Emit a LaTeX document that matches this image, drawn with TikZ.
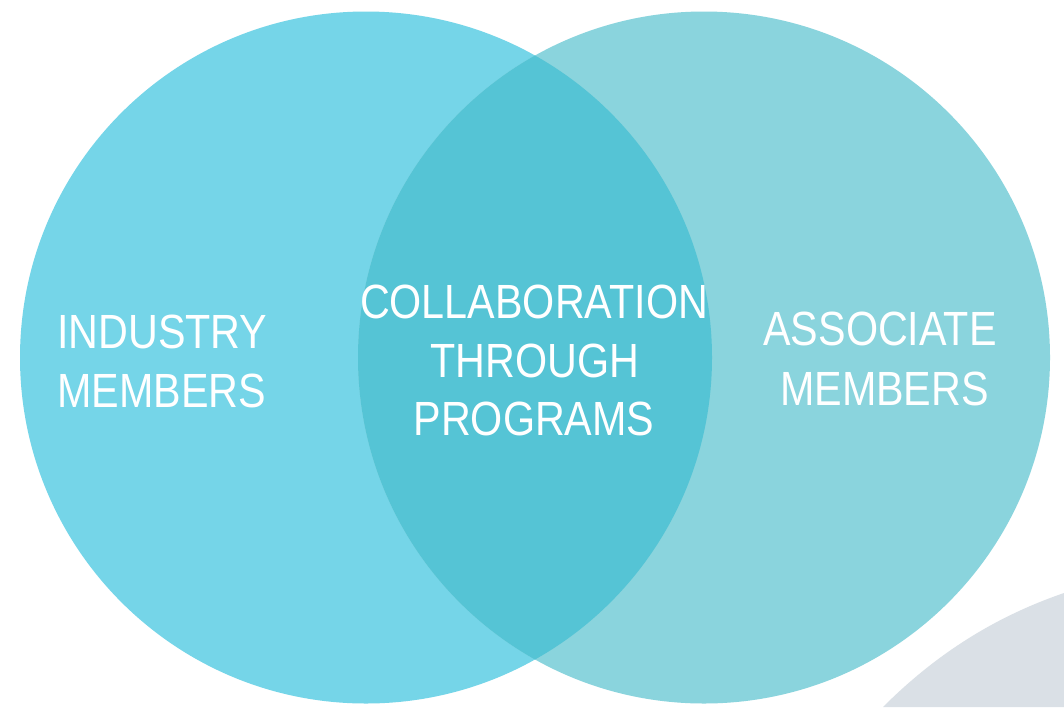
\documentclass[tikz,border=0pt]{standalone}
\usepackage{fontspec}
\newfontfamily\labelfont[FakeStretch=0.86]{Liberation Sans}
\definecolor{leftc}{HTML}{75D5E8}
\definecolor{rightc}{HTML}{8AD4DD}
\definecolor{midc}{HTML}{55C4D5}
\definecolor{swoosh}{HTML}{DAE0E6}
\begin{document}
\begin{tikzpicture}[x=1pt,y=-1pt,
  lbl/.style={inner sep=0pt,text=white,font=\labelfont\fontsize{48}{57}\selectfont}]
\useasboundingbox (0,0) rectangle (1064,707);
\fill[white] (0,0) rectangle (1064,707);
% grey swoosh
\fill[swoosh] (883,707) .. controls (940,650) and (1000,615) .. (1064,593) -- (1064,707) -- cycle;
% circles
\coordinate (cl) at (366,357.5);
\coordinate (cr) at (704,357.5);
\fill[leftc] (cl) circle[radius=346];
\fill[rightc] (cr) circle[radius=346];
\begin{scope}
  \clip (cl) circle[radius=346];
  \fill[midc] (cr) circle[radius=346];
\end{scope}
% labels
\node[lbl,anchor=base west] (ind1) at (57,348) {INDUSTRY};
\node[lbl,anchor=base west] (ind2) at (57,407) {MEMBERS};
\node[lbl,anchor=base] (col1) at (534,318) {COLLABORATION};
\node[lbl,anchor=base] (col2) at (535,377) {THROUGH};
\node[lbl,anchor=base] (col3) at (534,435) {PROGRAMS};
\node[lbl,anchor=base] (ass1) at (880,345) {ASSOCIATE};
\node[lbl,anchor=base] (ass2) at (884.5,405) {MEMBERS};
\end{tikzpicture}
\end{document}
